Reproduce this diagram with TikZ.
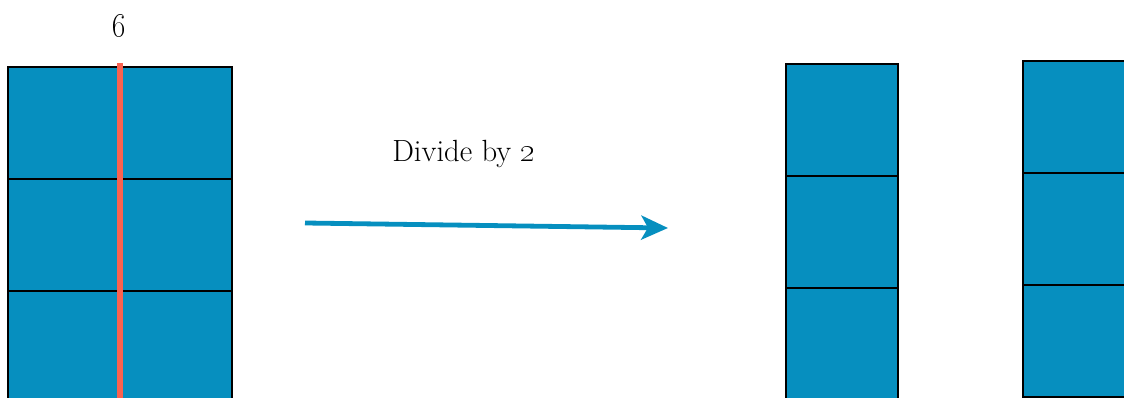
\documentclass[tikz,border=0pt]{standalone}
\usetikzlibrary{arrows.meta}
\definecolor{cellblue}{RGB}{6,143,191}
\definecolor{cutred}{RGB}{250,98,80}
\begin{document}
\begin{tikzpicture}[x=0.75pt,y=-0.75pt,
  cell/.style={fill=cellblue,draw=black,line width=2.2pt,line join=miter},
  lbl/.style={font=\fontsize{23}{26}\selectfont,inner sep=0pt}]
\useasboundingbox (0,0) rectangle (1124,398);
\clip (0,0) rectangle (1124,398);
% left block 2x3
\foreach \r in {0,1,2}{
  \foreach \c in {0,1}{
    \draw[cell] (8+112*\c,67+112*\r) rectangle ++(112,112);
  }
}
\draw[cutred,line width=4.4pt] (120,63) -- (120,410);
\node[lbl] (six) at (119,26) {\oldstylenums{6}};
% arrow
\node[lbl] (div) at (464,154) {Divide by \oldstylenums{2}};
\coordinate (a1) at (305,223);
\coordinate (a2) at (668,228);
\draw[cellblue,line width=3.6pt,-{Stealth[length=20pt,width=18pt,inset=5pt]}] (a1) -- (a2);
% right columns
\foreach \r in {0,1,2}{
  \draw[cell] (786,64+112*\r) rectangle ++(112,112);
  \draw[cell] (1023,61+112*\r) rectangle ++(112,112);
}
\end{tikzpicture}
\end{document}
